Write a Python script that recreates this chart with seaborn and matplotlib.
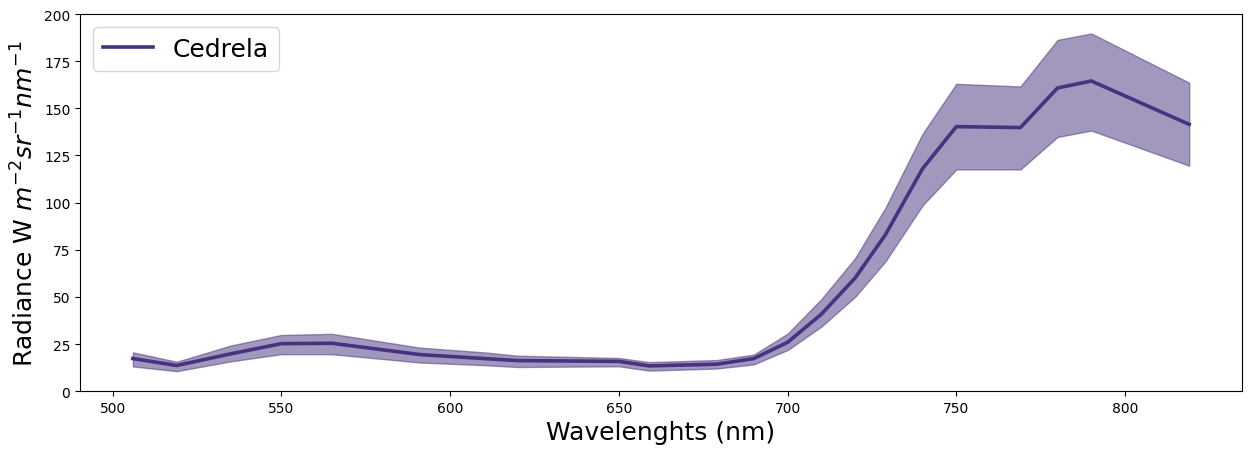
import matplotlib
matplotlib.use("Agg")
import matplotlib.pyplot as plt
import seaborn as sns
import pandas as pd

wavelengths = [506, 519, 535, 550, 565, 591, 610, 620, 650, 659, 679, 690,
               700, 710, 720, 729, 740, 750, 769, 780, 790, 819]
mean_rad = [17.3, 13.6, 19.8, 25.2, 25.4, 19.4, 17.3, 16.2, 15.8, 13.4, 14.3, 17.3,
            25.9, 40.8, 60.0, 83.0, 118.0, 140.3, 139.8, 160.8, 164.5, 141.5]
upper_rad = [20.6, 15.6, 24.2, 29.8, 30.4, 23.1, 20.6, 18.8, 17.6, 15.4, 16.5, 19.4,
             30.5, 48.8, 70.5, 97.3, 136.5, 163.0, 161.6, 186.3, 189.7, 163.6]
lower_rad = [13.1, 10.6, 15.8, 19.6, 19.6, 15.2, 13.8, 12.8, 13.2, 10.9, 12.0, 14.2,
             21.8, 34.2, 50.0, 68.8, 98.5, 117.6, 117.6, 134.8, 138.2, 119.6]
label = "Cedrela"
color = "#46327e"

df = pd.DataFrame({"wl": wavelengths, "mean": mean_rad,
                   "upper": upper_rad, "lower": lower_rad})

fig, ax = plt.subplots(figsize=(12.51, 4.56), dpi=100)
fig.subplots_adjust(left=0.064, right=0.9928, top=0.967, bottom=0.14)

sns.lineplot(data=df, x="wl", y="mean", color=color, linewidth=2.6, ax=ax, label=label)
ax.fill_between(df["wl"], df["lower"], df["upper"], color=color, alpha=0.5)

ax.set_ylim(0, 200)
ax.set_xlabel("Wavelenghts (nm)", fontsize=18)
ax.set_ylabel(r"Radiance W $m^{-2}sr^{-1}nm^{-1}$", fontsize=18)
ax.legend(loc="upper left", fontsize=18)

fig.savefig("out.png", dpi=100)
